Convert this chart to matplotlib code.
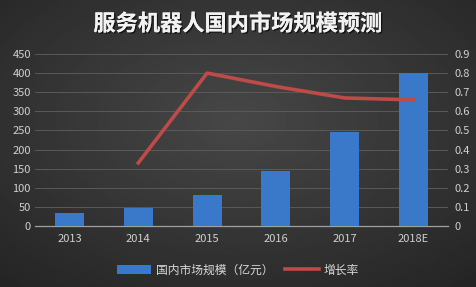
import numpy as np
import matplotlib
matplotlib.use("Agg")
import matplotlib.pyplot as plt
from matplotlib.patches import Patch
from matplotlib.lines import Line2D
import matplotlib.patheffects as pe

plt.rcParams['font.family'] = ['Noto Sans CJK SC', 'DejaVu Sans']

categories = ['2013', '2014', '2015', '2016', '2017', '2018E']
market_size = [35, 48, 80, 145, 245, 400]
growth_cats = ['2014', '2015', '2016', '2017', '2018E']
growth_rate = [0.33, 0.80, 0.73, 0.67, 0.66]
left_ticks = [0, 50, 100, 150, 200, 250, 300, 350, 400, 450]
right_ticks = [0, 0.1, 0.2, 0.3, 0.4, 0.5, 0.6, 0.7, 0.8, 0.9]
title = '服务机器人国内市场规模预测'
legend_labels = ['国内市场规模（亿元）', '增长率']

fig = plt.figure(figsize=(4.76, 2.87), dpi=100)

# background radial gradient
bg = fig.add_axes([0, 0, 1, 1])
yy, xx = np.mgrid[-1:1:300j, -1:1:500j]
r = np.sqrt((xx * 0.9) ** 2 + (yy * 0.9 + 0.15) ** 2)
val = 0.28 - 0.10 * np.clip(r, 0, 1.4)
bg.imshow(val, cmap='gray', vmin=0, vmax=1, aspect='auto', extent=[0, 1, 0, 1])
bg.axis('off')

ax = fig.add_axes([35 / 476, 1 - 226 / 287, 413 / 476, 172 / 287])
ax.patch.set_alpha(0)
x = np.arange(len(categories))
ax.bar(x, market_size, width=0.42, color='#3A78C9', zorder=3)
ax.set_ylim(0, 450)
ax.set_xlim(-0.5, len(categories) - 0.5)
ax.set_yticks(left_ticks)
ax.set_yticklabels([str(t) for t in left_ticks])
ax.set_xticks(x)
ax.set_xticklabels(categories)
ax.grid(axis='y', color='#5a5a5a', linewidth=0.7, zorder=0)
for s in ['top', 'left', 'right']:
    ax.spines[s].set_visible(False)
ax.spines['bottom'].set_color('#a0a0a0')
ax.spines['bottom'].set_linewidth(0.9)
ax.tick_params(axis='both', length=0, colors='#d0d0d0', labelsize=8)
ax.tick_params(axis='x', pad=6)
ax.tick_params(axis='y', pad=3)

ax2 = ax.twinx()
gx = [categories.index(c) for c in growth_cats]
ax2.plot(gx, growth_rate, color='#BE4B48', linewidth=2.6, zorder=4)
ax2.set_ylim(0, 0.9)
ax2.set_yticks(right_ticks)
ax2.set_yticklabels(['0'] + [f'{t:.1f}' for t in right_ticks[1:]])
for s in ['top', 'left', 'right', 'bottom']:
    ax2.spines[s].set_visible(False)
ax2.tick_params(axis='y', length=0, colors='#d0d0d0', labelsize=8, pad=5)

fig.text(0.5, 1 - 24 / 287, title, ha='center', va='center', fontsize=16,
         fontweight='bold', color='#f2f2f2',
         path_effects=[pe.withSimplePatchShadow(offset=(1, -1), shadow_rgbFace='black', alpha=0.6), pe.Normal()])

handles = [Patch(facecolor='#3A78C9', edgecolor='none'),
           Line2D([0], [0], color='#BE4B48', linewidth=2.6)]
fig.legend(handles, legend_labels, loc='center', bbox_to_anchor=(0.5, 1 - 270 / 287),
           ncol=2, frameon=False, fontsize=8.5, labelcolor='#d9d9d9',
           handlelength=2.9, handleheight=0.7, columnspacing=1.0, handletextpad=0.4)

fig.savefig('out.png', dpi=100)
